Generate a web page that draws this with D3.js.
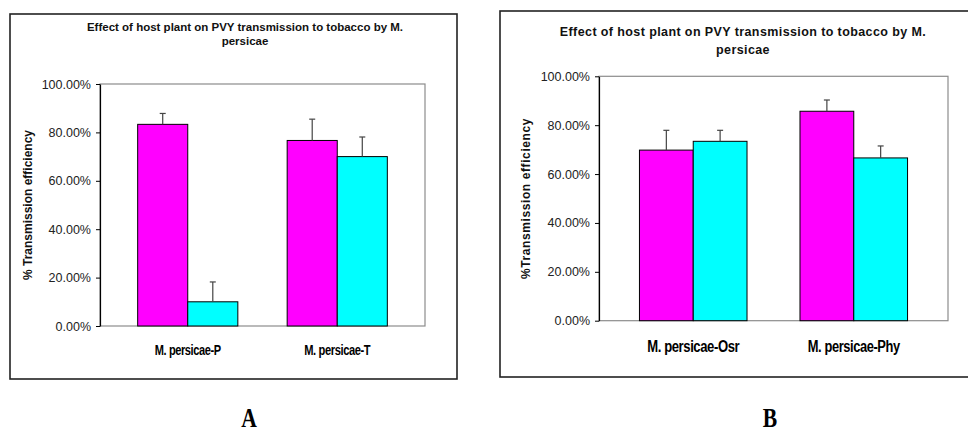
<!DOCTYPE html>
<html>
<head>
<meta charset="utf-8">
<script src="https://cdn.jsdelivr.net/npm/d3@7"></script>
<style>
  body { margin: 0; background: #fff; }
  svg { display: block; }
</style>
</head>
<body>
<svg class="chart" width="968" height="434"></svg>
<script>
// panel A
const categoriesA = ['M. persicae-P', 'M. persicae-T'];
const magentaA = [0.8333, 0.7667];
const cyanA = [0.10, 0.70];
const errMagentaA = [0.045, 0.088];
const errCyanA = [0.082, 0.081];

// panel B
const categoriesB = ['M. persicae-Osr', 'M. persicae-Phy'];
const magentaB = [0.698, 0.857];
const cyanB = [0.734, 0.666];
const errMagentaB = [0.081, 0.046];
const errCyanB = [0.045, 0.049];

const yTicks = [0, 0.2, 0.4, 0.6, 0.8, 1.0];
const titleLines = ['Effect of host plant on PVY transmission to tobacco by M.', 'persicae'];
const seriesColors = ['#ff00ff', '#00ffff'];

const svg = d3.select('.chart');

const drawPanel = (props) => {
    const {
        frame, plot, categories, series, errors,
        titleX, titleY, titleSize, titleSpacing, titleGap,
        yLabel, yLabelX, yLabelSize, yLabelSpacing,
        xLabelY, xLabelSize, xLabelWidth, letter, letterX,
    } = props;

    const g = svg.append('g');

    // outer frame
    g.append('rect')
        .attr('x', frame.x).attr('y', frame.y)
        .attr('width', frame.w).attr('height', frame.h)
        .style('fill', '#fff')
        .style('stroke', '#222')
        .style('stroke-width', 1.6);

    const x0 = d3.scaleBand()
        .domain(categories)
        .range([plot.left, plot.right])
        .paddingInner(0.33)
        .paddingOuter(0.252);
    const x1 = d3.scaleBand()
        .domain(d3.range(series.length))
        .range([0, x0.bandwidth()]);
    const y = d3.scaleLinear()
        .domain([0, 1])
        .range([plot.bottom, plot.top]);

    // plot area border (gray)
    g.append('rect')
        .attr('x', plot.left).attr('y', plot.top)
        .attr('width', plot.right - plot.left)
        .attr('height', plot.bottom - plot.top)
        .style('fill', 'none')
        .style('stroke', '#8c8c8c')
        .style('stroke-width', 1.2);

    const yAxis = g.append('g')
        .attr('transform', `translate(${plot.left},0)`)
        .call(d3.axisLeft(y).tickValues(yTicks).tickFormat(d3.format('.2%'))
            .tickSize(4).tickPadding(5).tickSizeOuter(0));
    yAxis.select('.domain').style('stroke', '#000').style('stroke-width', 1.2);
    yAxis.selectAll('.tick line').style('stroke', '#000');
    yAxis.selectAll('.tick text')
        .style('font-family', '"Liberation Sans", Arial, sans-serif')
        .style('font-size', '12.5px')
        .style('fill', '#222');

    // bars
    categories.forEach((cat, i) => {
        series.forEach((vals, s) => {
            const bx = x0(cat) + x1(s);
            const bw = x1.bandwidth();
            g.append('rect')
                .attr('x', bx).attr('y', y(vals[i]))
                .attr('width', bw).attr('height', y(0) - y(vals[i]))
                .style('fill', seriesColors[s])
                .style('stroke', '#000')
                .style('stroke-width', 1);
            const cx = bx + bw / 2;
            const top = y(vals[i] + errors[s][i]);
            g.append('line')
                .attr('x1', cx).attr('x2', cx)
                .attr('y1', y(vals[i])).attr('y2', top)
                .style('stroke', '#444').style('stroke-width', 1.2);
            g.append('line')
                .attr('x1', cx - 3).attr('x2', cx + 3)
                .attr('y1', top).attr('y2', top)
                .style('stroke', '#444').style('stroke-width', 1.2);
        });
    });

    // category labels (condensed, like Arial Narrow)
    g.selectAll('.xlab')
        .data(categories)
        .enter().append('text')
        .attr('x', (d) => x0(d) + x0.bandwidth() / 2)
        .attr('y', xLabelY)
        .attr('text-anchor', 'middle')
        .attr('textLength', xLabelWidth)
        .attr('lengthAdjust', 'spacingAndGlyphs')
        .style('font-family', '"Liberation Sans", Arial, sans-serif')
        .style('font-weight', 'bold')
        .style('font-size', xLabelSize + 'px')
        .style('letter-spacing', '-0.5px')
        .style('fill', '#000')
        .text((d) => d);

    // title
    titleLines.forEach((line, i) => {
        g.append('text')
            .attr('x', titleX)
            .attr('y', titleY + i * titleGap)
            .attr('text-anchor', 'middle')
            .style('font-family', '"Liberation Sans", Arial, sans-serif')
            .style('font-weight', 'bold')
            .style('font-size', titleSize + 'px')
            .style('letter-spacing', titleSpacing + 'px')
            .style('fill', '#111')
            .text(line);
    });

    // y axis title
    g.append('text')
        .attr('transform', `translate(${yLabelX},${(plot.top + plot.bottom) / 2}) rotate(-90)`)
        .attr('text-anchor', 'middle')
        .attr('dy', '0.35em')
        .style('font-family', '"Liberation Sans", Arial, sans-serif')
        .style('font-weight', 'bold')
        .style('font-size', yLabelSize + 'px')
        .style('letter-spacing', yLabelSpacing + 'px')
        .style('fill', '#111')
        .text(yLabel);

    // panel letter
    g.append('text')
        .attr('x', letterX)
        .attr('y', 427)
        .attr('text-anchor', 'middle')
        .attr('transform', `translate(${letterX},0) scale(0.8,1) translate(${-letterX},0)`)
        .style('font-family', '"Liberation Serif", "Times New Roman", serif')
        .style('font-weight', 'bold')
        .style('font-size', '27px')
        .style('fill', '#000')
        .text(letter);
};

drawPanel({
    frame: {x: 10, y: 14, w: 447, h: 365},
    plot: {left: 100, right: 425, top: 84, bottom: 326},
    categories: categoriesA,
    series: [magentaA, cyanA],
    errors: [errMagentaA, errCyanA],
    titleX: 245, titleY: 31, titleSize: 11.5, titleSpacing: 0, titleGap: 14,
    yLabel: '% Transmission efficiency', yLabelX: 28, yLabelSize: 12, yLabelSpacing: 0,
    xLabelY: 355, xLabelSize: 14, xLabelWidth: 66,
    letter: 'A', letterX: 249,
});

drawPanel({
    frame: {x: 500, y: 11, w: 480, h: 366},
    plot: {left: 599, right: 948, top: 76.3, bottom: 320.7},
    categories: categoriesB,
    series: [magentaB, cyanB],
    errors: [errMagentaB, errCyanB],
    titleX: 743, titleY: 36, titleSize: 12.5, titleSpacing: 0.4, titleGap: 18,
    yLabel: '%Transmission efficiency', yLabelX: 526, yLabelSize: 12, yLabelSpacing: 0.6,
    xLabelY: 352, xLabelSize: 16, xLabelWidth: 92,
    letter: 'B', letterX: 770,
});
</script>
</body>
</html>
